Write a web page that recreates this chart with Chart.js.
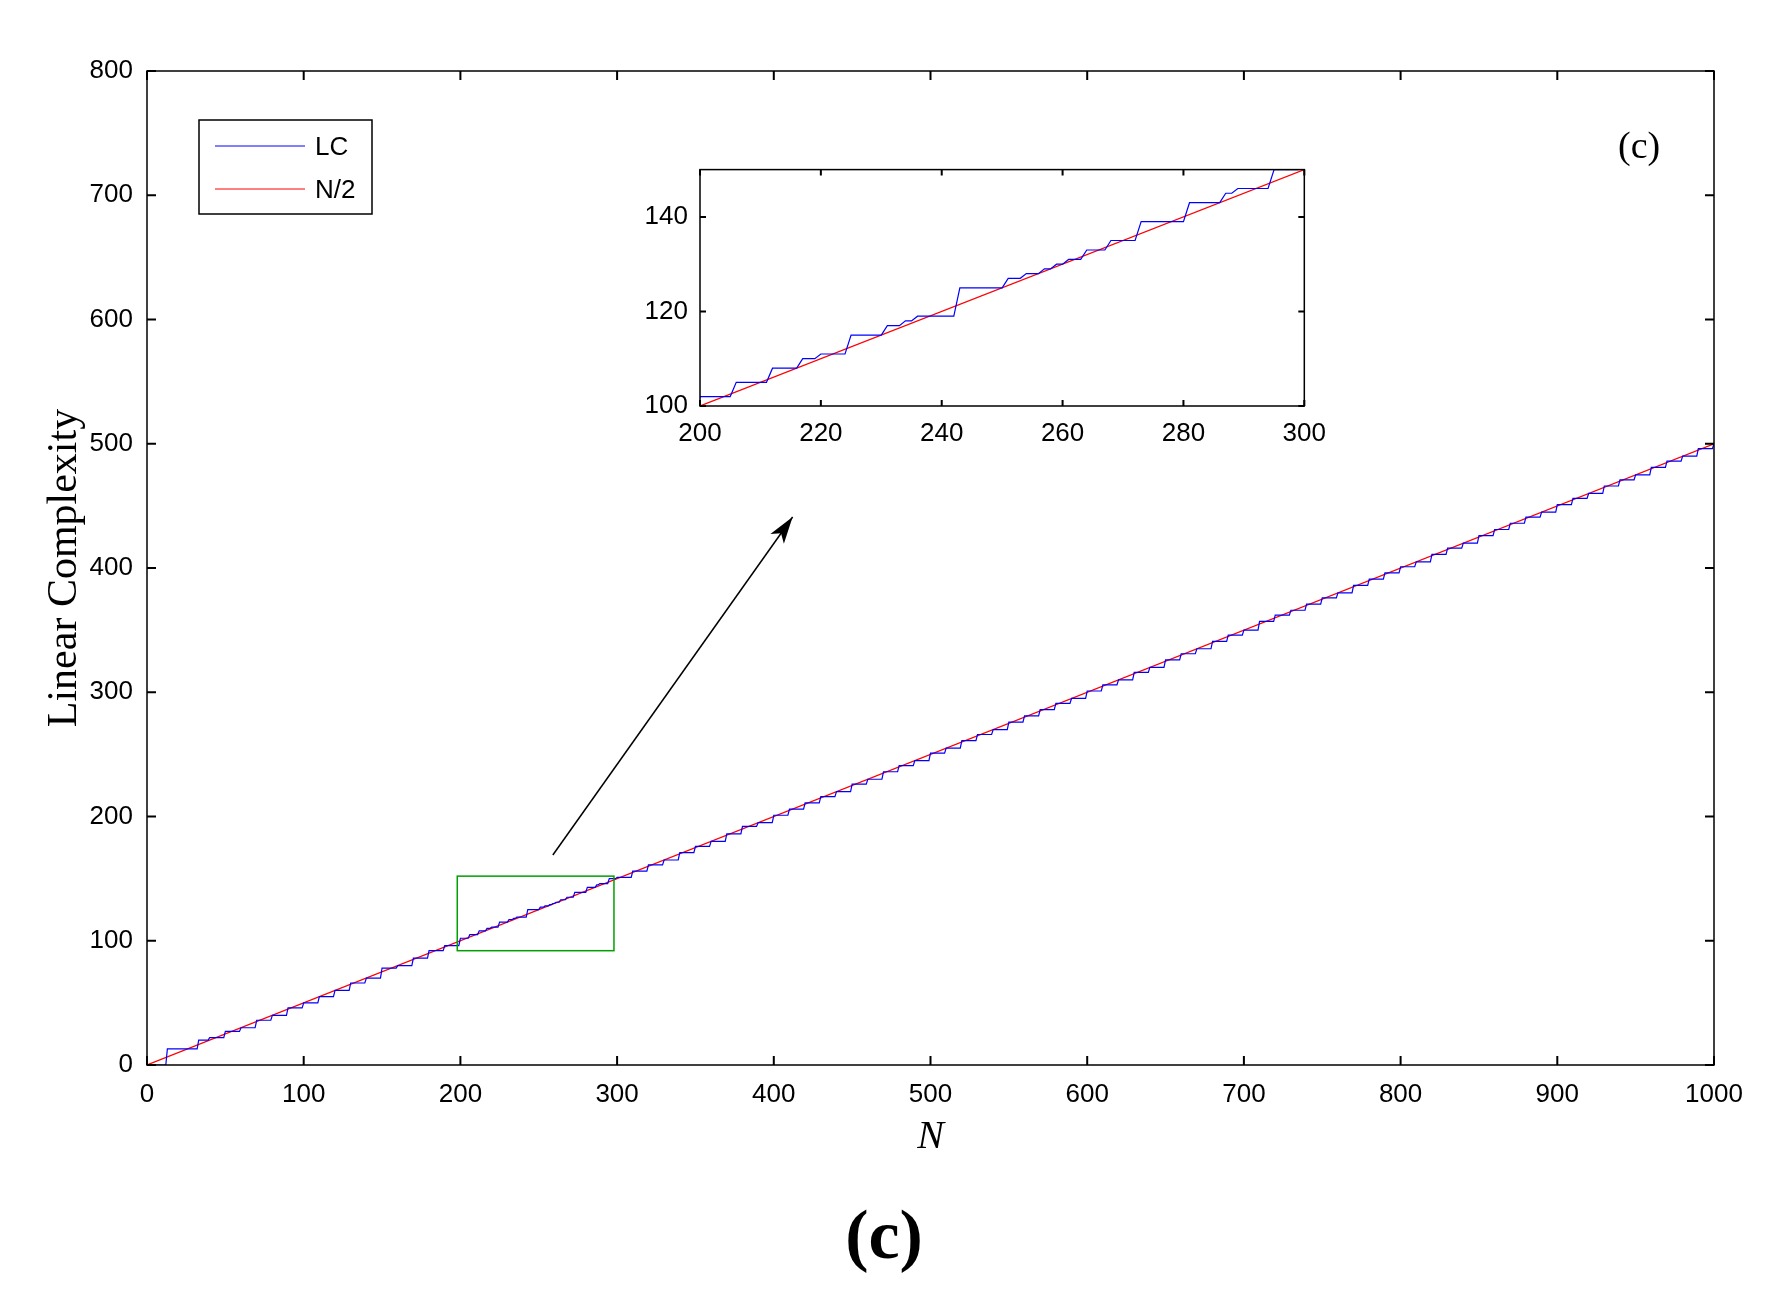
<!DOCTYPE html>
<html>
<head>
<meta charset="utf-8">
<script src="https://cdn.jsdelivr.net/npm/chart.js@4"></script>
<style>
  body { margin: 0; background: #fff; }
  #wrap { position: relative; width: 1768px; height: 1310px; }
  #main { position: absolute; left: 0; top: 0; }
  #inset { position: absolute; left: 640px; top: 150px; }
  #cap { position: absolute; left: 0; width: 1768px; top: 1195px; text-align: center;
         font: bold 70px "Liberation Serif", serif; }
</style>
</head>
<body>
<div id="wrap">
  <canvas id="main" width="1768" height="1310"></canvas>
  <canvas id="inset" width="690" height="300"></canvas>
  <div id="cap">(c)</div>
</div>
<script>
// puntos donde LC salta (N) y el valor nuevo
const lcN = [0, 13, 33, 40, 50, 60, 70, 80, 90, 100, 110, 120, 130, 140, 150, 160, 170, 180, 190,
  200, 206, 212, 217, 220, 225, 231, 234, 236, 243, 251, 254, 257, 259, 261, 264, 268, 273, 281, 287, 289, 295,
  300, 310, 320, 330, 340, 350, 360, 370, 380, 390, 400, 410, 420, 430, 440, 450, 460, 470, 480, 490,
  500, 510, 520, 530, 540, 550, 560, 570, 580, 590, 600, 610, 620, 630, 640, 650, 660, 670, 680, 690,
  700, 710, 720, 730, 740, 750, 760, 770, 780, 790, 800, 810, 820, 830, 840, 850, 860, 870, 880, 890,
  900, 910, 920, 930, 940, 950, 960, 970, 980, 990, 1000];
const lcV = [0, 13, 20, 22, 27, 30, 36, 40, 46, 50, 55, 60, 66, 70, 78, 80, 86, 92, 96,
  102, 105, 108, 110, 111, 115, 117, 118, 119, 125, 127, 128, 129, 130, 131, 133, 135, 139, 143, 145, 146, 150,
  151, 156, 161, 165, 171, 176, 180, 186, 192, 195, 201, 206, 211, 216, 220, 226, 230, 236, 241, 245,
  251, 255, 261, 266, 270, 276, 281, 286, 291, 295, 301, 306, 310, 316, 320, 326, 331, 335, 341, 346,
  350, 357, 362, 366, 371, 376, 380, 386, 391, 396, 401, 405, 411, 416, 420, 426, 431, 436, 441, 445,
  451, 456, 460, 466, 471, 475, 481, 486, 490, 496, 500];
const xTicks = [0, 100, 200, 300, 400, 500, 600, 700, 800, 900, 1000];
const yTicks = [0, 100, 200, 300, 400, 500, 600, 700, 800];
const insetXTicks = [200, 220, 240, 260, 280, 300];
const insetYTicks = [100, 120, 140];

// escalones con una subida de un paso
const lcPts = [];
for (let i = 0; i < lcN.length; i++) {
  lcPts.push({ x: lcN[i], y: lcV[i] });
  if (i + 1 < lcN.length) lcPts.push({ x: lcN[i + 1] - 1, y: lcV[i] });
}
const halfPts = [{ x: 0, y: 0 }, { x: 1000, y: 500 }];

const tickFont = { family: '"Liberation Sans", Arial', size: 26 };

// marco y marcas hacia dentro en los cuatro lados
const frame = {
  id: 'frame',
  afterDraw(chart, args, opts) {
    const { ctx, chartArea: a, scales } = chart;
    const L = opts.len || 8;
    ctx.save();
    ctx.strokeStyle = '#000';
    ctx.lineWidth = 1.5;
    ctx.strokeRect(a.left, a.top, a.right - a.left, a.bottom - a.top);
    ctx.lineWidth = 2;
    ctx.beginPath();
    opts.xt.forEach(v => {
      const x = scales.x.getPixelForValue(v);
      ctx.moveTo(x, a.bottom); ctx.lineTo(x, a.bottom - L);
      ctx.moveTo(x, a.top); ctx.lineTo(x, a.top + L);
    });
    opts.yt.forEach(v => {
      const y = scales.y.getPixelForValue(v);
      ctx.moveTo(a.left, y); ctx.lineTo(a.left + L, y);
      ctx.moveTo(a.right, y); ctx.lineTo(a.right - L, y);
    });
    ctx.stroke();
    ctx.restore();
  }
};

const extras = {
  id: 'extras',
  afterDraw(chart) {
    const { ctx, scales: { x, y } } = chart;
    ctx.save();
    // rectángulo verde del zoom
    ctx.strokeStyle = '#00a000';
    ctx.lineWidth = 1.5;
    const x0 = x.getPixelForValue(198), x1 = x.getPixelForValue(298);
    const y0 = y.getPixelForValue(152), y1 = y.getPixelForValue(92);
    ctx.strokeRect(x0, y0, x1 - x0, y1 - y0);
    // flecha
    const ax = x.getPixelForValue(259), ay = y.getPixelForValue(169);
    const bx = x.getPixelForValue(412), by = y.getPixelForValue(441);
    ctx.strokeStyle = '#000'; ctx.fillStyle = '#000'; ctx.lineWidth = 1.5;
    ctx.beginPath(); ctx.moveTo(ax, ay); ctx.lineTo(bx, by); ctx.stroke();
    const ang = Math.atan2(by - ay, bx - ax);
    ctx.beginPath();
    ctx.moveTo(bx, by);
    ctx.lineTo(bx - 28 * Math.cos(ang - 0.3), by - 28 * Math.sin(ang - 0.3));
    ctx.lineTo(bx - 20 * Math.cos(ang), by - 20 * Math.sin(ang));
    ctx.lineTo(bx - 28 * Math.cos(ang + 0.3), by - 28 * Math.sin(ang + 0.3));
    ctx.closePath(); ctx.fill();
    // leyenda
    ctx.lineWidth = 1.5;
    ctx.strokeRect(199, 120, 173, 94);
    ctx.strokeStyle = '#0000ff'; ctx.lineWidth = 1;
    ctx.beginPath(); ctx.moveTo(215, 146); ctx.lineTo(305, 146); ctx.stroke();
    ctx.strokeStyle = '#ff0000';
    ctx.beginPath(); ctx.moveTo(215, 189); ctx.lineTo(305, 189); ctx.stroke();
    ctx.font = '26px "Liberation Sans", Arial';
    ctx.textBaseline = 'middle';
    ctx.fillText('LC', 315, 148);
    ctx.fillText('N/2', 315, 191);
    ctx.font = '38px "Liberation Serif", serif';
    ctx.fillText('(c)', 1618, 148);
    ctx.restore();
  }
};

function lineSets() {
  return [
    { label: 'LC', data: lcPts, borderColor: '#0000ff', borderWidth: 1.2, pointRadius: 0 },
    { label: 'N/2', data: halfPts, borderColor: '#ff0000', borderWidth: 1.2, pointRadius: 0 }
  ];
}

new Chart(document.getElementById('main'), {
  type: 'line',
  data: { datasets: lineSets() },
  options: {
    responsive: false, animation: false, parsing: false,
    layout: { padding: { top: 71, right: 54, bottom: 145, left: 36 } },
    plugins: { legend: { display: false }, tooltip: { enabled: false },
      frame: { xt: xTicks, yt: yTicks, len: 9 } },
    scales: {
      x: {
        type: 'linear', min: 0, max: 1000,
        afterBuildTicks: s => { s.ticks = xTicks.map(v => ({ value: v })); },
        afterFit: s => { s.height = 100; },
        grid: { display: false }, border: { display: false },
        ticks: { color: '#000', font: tickFont, maxRotation: 0, padding: 6, callback: v => String(v) },
        title: { display: true, text: 'N', color: '#000',
          font: { family: '"Liberation Serif", serif', size: 40, style: 'italic' } }
      },
      y: {
        type: 'linear', min: 0, max: 800,
        afterBuildTicks: s => { s.ticks = yTicks.map(v => ({ value: v })); },
        afterFit: s => { s.width = 111; },
        grid: { display: false }, border: { display: false },
        ticks: { color: '#000', font: tickFont, padding: 6 },
        title: { display: true, text: 'Linear Complexity', color: '#000',
          font: { family: '"Liberation Serif", serif', size: 42 } }
      }
    }
  },
  plugins: [frame, extras]
});

new Chart(document.getElementById('inset'), {
  type: 'line',
  data: { datasets: lineSets() },
  options: {
    responsive: false, animation: false, parsing: false,
    layout: { padding: { top: 12, right: 25, bottom: 0, left: 0 } },
    plugins: { legend: { display: false }, tooltip: { enabled: false },
      frame: { xt: insetXTicks, yt: insetYTicks, len: 6 } },
    scales: {
      x: {
        type: 'linear', min: 200, max: 300,
        afterBuildTicks: s => { s.ticks = insetXTicks.map(v => ({ value: v })); },
        afterFit: s => { s.height = 44; },
        grid: { display: false }, border: { display: false },
        ticks: { color: '#000', font: tickFont, maxRotation: 0, padding: 4 }
      },
      y: {
        type: 'linear', min: 100, max: 150,
        afterBuildTicks: s => { s.ticks = insetYTicks.map(v => ({ value: v })); },
        afterFit: s => { s.width = 60; },
        grid: { display: false }, border: { display: false },
        ticks: { color: '#000', font: tickFont, padding: 4 }
      }
    }
  },
  plugins: [frame]
});
</script>
</body>
</html>
